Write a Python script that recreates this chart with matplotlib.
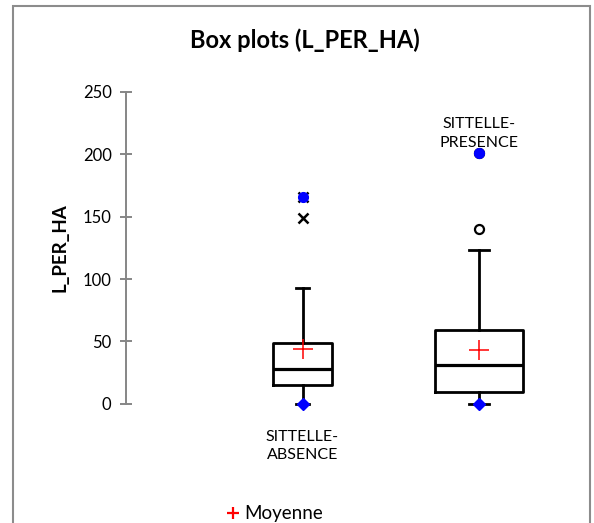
import matplotlib
matplotlib.use('Agg')
import matplotlib.pyplot as plt
from matplotlib.lines import Line2D
from matplotlib.patches import Rectangle
from matplotlib.transforms import blended_transform_factory

# ---- data ----
categories = ['SITTELLE-\nABSENCE', 'SITTELLE-\nPRESENCE']
positions = [1, 2]
q1 = [15.2, 9.0]
medians = [27.6, 30.9]
q3 = [48.3, 59.0]
whisk_lo = [0.0, 0.0]
whisk_hi = [93.0, 123.5]
means = [43.6, 42.8]
minimums = [0.0, 0.0]
maximums = [166.0, 201.0]
outliers_cross = [149.0, 166.0]     # SITTELLE-ABSENCE
outliers_circle = [140.5, 201.0]    # SITTELLE-PRESENCE
yticks = [0, 50, 100, 150, 200, 250]

plt.rcParams['font.family'] = ['Lato', 'DejaVu Sans']

W, H = 594, 523
fig = plt.figure(figsize=(W / 100, H / 100), dpi=100)
fig.patch.set_facecolor('white')

# axes placement (pixels measured on reference)
x0_px, y0_px, y250_px = 125.8, 403.7, 92.0
unit_px = 176.7
ax = fig.add_axes([x0_px / W, 1 - y0_px / H, 2.5 * unit_px / W, (y0_px - y250_px) / H])
ax.set_xlim(0, 2.5)
ax.set_ylim(0, 250)
ax.patch.set_alpha(0)

stats = []
for i in range(len(categories)):
    stats.append(dict(med=medians[i], q1=q1[i], q3=q3[i], whislo=whisk_lo[i],
                      whishi=whisk_hi[i], mean=means[i], fliers=[]))

lw = 2.0
art = ax.bxp(stats, positions=positions, widths=[0.336, 0.5], capwidths=[0.074, 0.113],
             showmeans=True, showfliers=False, manage_ticks=False,
             boxprops=dict(color='black', linewidth=lw),
             whiskerprops=dict(color='black', linewidth=lw),
             capprops=dict(color='black', linewidth=lw),
             medianprops=dict(color='black', linewidth=lw + 0.3),
             meanprops=dict(marker='+', markeredgecolor='red', markerfacecolor='red',
                            markersize=14, markeredgewidth=1.1))
for key in art:
    for a in art[key]:
        a.set_clip_on(False)

# outliers
ax.plot([positions[0]] * len(outliers_cross), outliers_cross, ls='none', marker='x',
        color='black', markersize=7, markeredgewidth=1.8, clip_on=False, zorder=4)
ax.plot([positions[1]] * len(outliers_circle), outliers_circle, ls='none', marker='o',
        markerfacecolor='white', markeredgecolor='black', markersize=6.5,
        markeredgewidth=1.6, clip_on=False, zorder=4)
# minimum / maximum
ax.plot(positions, minimums, ls='none', marker='D', color='blue', markersize=6,
        clip_on=False, zorder=5)
ax.plot(positions, maximums, ls='none', marker='o', color='blue', markersize=7,
        clip_on=False, zorder=5)

# axes styling
for s in ['top', 'right', 'bottom']:
    ax.spines[s].set_visible(False)
grey = '#868686'
ax.spines['left'].set_color(grey)
ax.spines['left'].set_linewidth(1.4)
ax.set_xticks([])
ax.set_yticks(yticks)
ax.tick_params(axis='y', direction='inout', length=8.5, width=1.4, color=grey,
               pad=6, labelsize=12, labelcolor='black')

ax.set_ylabel('L_PER_HA', fontweight='bold', fontsize=13.5, ha='center', va='center')
ax.yaxis.set_label_coords(-0.150, 0.5)

# category labels
tr = blended_transform_factory(ax.transData, ax.transAxes)
ax.text(positions[0], -0.1357, categories[0], transform=tr, ha='center', va='center',
        fontsize=11.5, linespacing=1.4)
ax.text(positions[1], 0.867, categories[1], transform=tr, ha='center', va='center',
        fontsize=11.5, linespacing=1.4)

# title
fig.text(305 / W, 1 - 48.3 / H, 'Box plots (L_PER_HA)', ha='center', va='baseline',
         fontweight='bold', fontsize=17)

# legend
fig.add_artist(Line2D([232.7 / W], [1 - 512.8 / H], transform=fig.transFigure,
                      ls='none', marker='+', color='red', markersize=8,
                      markeredgewidth=1.6))
fig.text(244.3 / W, 1 - 519.3 / H, 'Moyenne', ha='left', va='baseline', fontsize=13.5)

# outer chart frame
fig.add_artist(Rectangle((12.5 / W, -0.05), (590 - 12.5) / W, 1 - 5.5 / H + 0.05,
                         transform=fig.transFigure, fill=False, edgecolor='#8c8c8c',
                         linewidth=1.5))

fig.savefig('out.png', dpi=100)
